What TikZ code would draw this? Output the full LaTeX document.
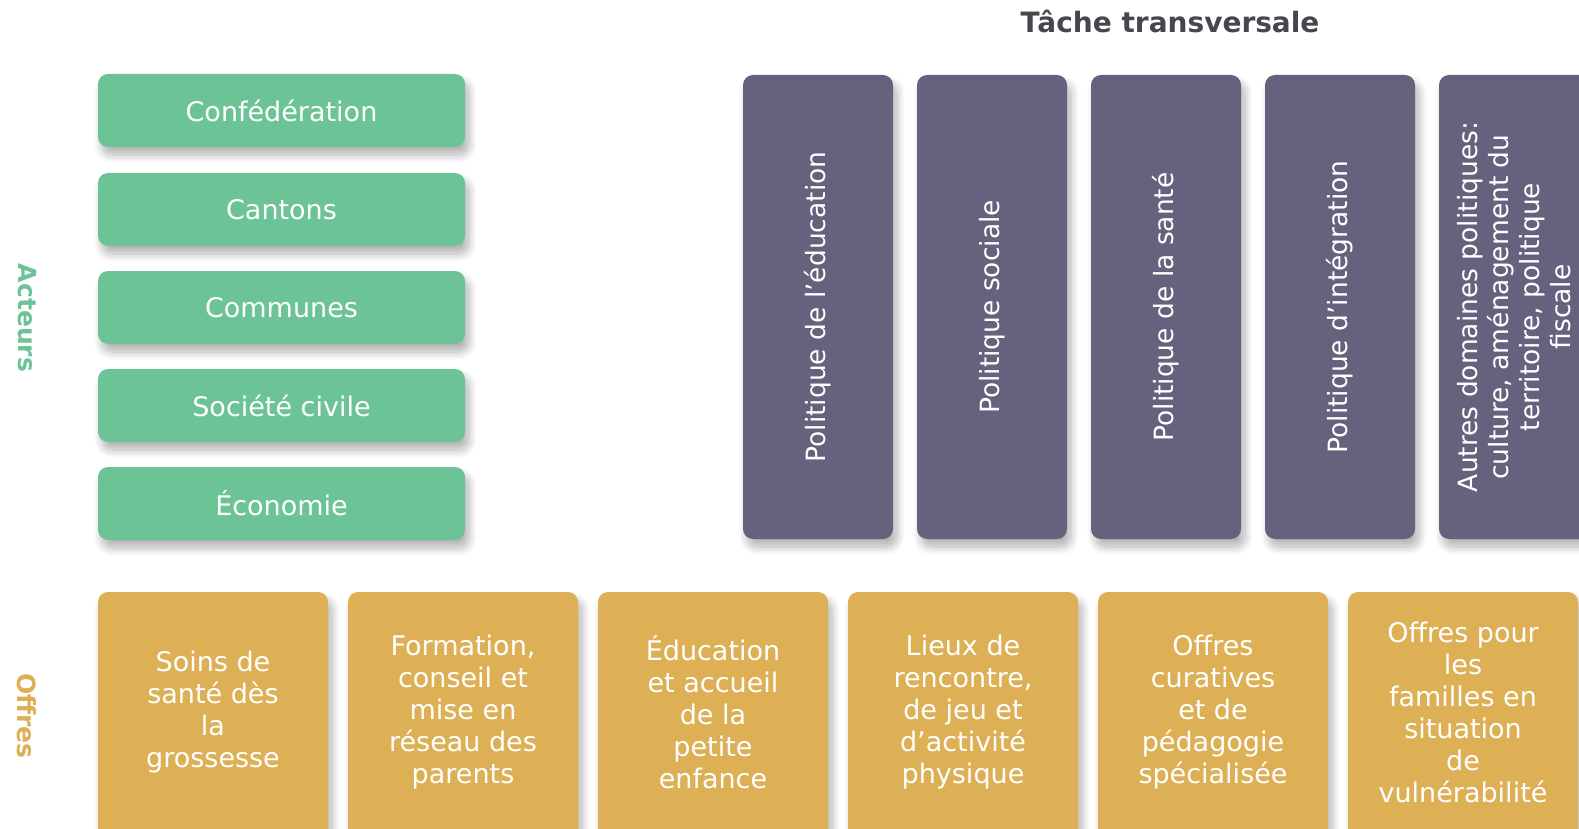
\documentclass[tikz,border=0pt]{standalone}
\usepackage{fontspec}
\setmainfont{DejaVu Sans}
\usetikzlibrary{shadows.blur}
\definecolor{acgreen}{RGB}{108,196,150}
\definecolor{polpurple}{RGB}{100,98,125}
\definecolor{offgold}{RGB}{222,176,86}
\definecolor{titlegray}{RGB}{70,70,78}
\tikzset{
  box/.style={rounded corners=10pt, draw=none, inner sep=0pt,
    blur shadow={shadow xshift=4pt, shadow yshift=-8pt, shadow blur radius=8pt, shadow blur steps=12, shadow opacity=30}},
  txt/.style={text=white, font=\fontsize{27}{32}\selectfont, align=center},
  actor/.style={box, txt, fill=acgreen, minimum width=367pt, minimum height=73pt},
  pol/.style={box, fill=polpurple, minimum width=150pt, minimum height=464pt},
  poltext/.style={txt, rotate=90, font=\fontsize{26.5}{31}\selectfont},
  offre/.style={box, txt, fill=offgold, minimum width=230pt, minimum height=250pt},
  sidelabel/.style={font=\fontsize{25}{28}\selectfont\bfseries, rotate=-90}
}
\begin{document}
\begin{tikzpicture}[x=1pt,y=-1pt]
\useasboundingbox (0,0) rectangle (1579,829);
\clip (0,0) rectangle (1579,829);
\node[font=\fontsize{28}{32}\selectfont\bfseries, text=titlegray] (title) at (1170,22) {Tâche transversale};
\node[sidelabel, text=acgreen] (acteurs) at (27,318) {Acteurs};
\node[sidelabel, text=offgold] (offres) at (27,716) {Offres};
% actors
\node[actor] (a1) at (281.5,110.5) {Confédération};
\node[actor] (a2) at (281.5,209.5) {Cantons};
\node[actor] (a3) at (281.5,307.5) {Communes};
\node[actor] (a4) at (281.5,405.5) {Société civile};
\node[actor] (a5) at (281.5,503.5) {Économie};
% policies
\foreach \i/\x in {1/818,2/992,3/1166,4/1340,5/1514}{
  \node[pol] (p\i) at (\x,307) {};
}
\node[poltext] (pt1) at (p1) {Politique de l’éducation};
\node[poltext] (pt2) at (p2) {Politique sociale};
\node[poltext] (pt3) at (p3) {Politique de la santé};
\node[poltext] (pt4) at (p4) {Politique d’intégration};
\node[poltext] (pt5) at (p5) {Autres domaines politiques:\\culture, aménagement du\\territoire, politique\\fiscale};
% offers
\foreach \i/\x in {1/213,2/463,3/713,4/963,5/1213,6/1463}{
  \node[offre] (o\i) at (\x,717) {};
}
\node[txt] (ot1) at (213,712) {Soins de\\santé dès\\la\\grossesse};
\node[txt] (ot2) at (463,712) {Formation,\\conseil et\\mise en\\réseau des\\parents};
\node[txt] (ot3) at (713,712) {Éducation\\et accueil\\de la\\petite\\enfance};
\node[txt] (ot4) at (963,712) {Lieux de\\rencontre,\\de jeu et\\d’activité\\physique};
\node[txt] (ot5) at (1213,712) {Offres\\curatives\\et de\\pédagogie\\spécialisée};
\node[txt] (ot6) at (1463,712) {Offres pour\\les\\familles en\\situation\\de\\vulnérabilité};
\end{tikzpicture}
\end{document}
